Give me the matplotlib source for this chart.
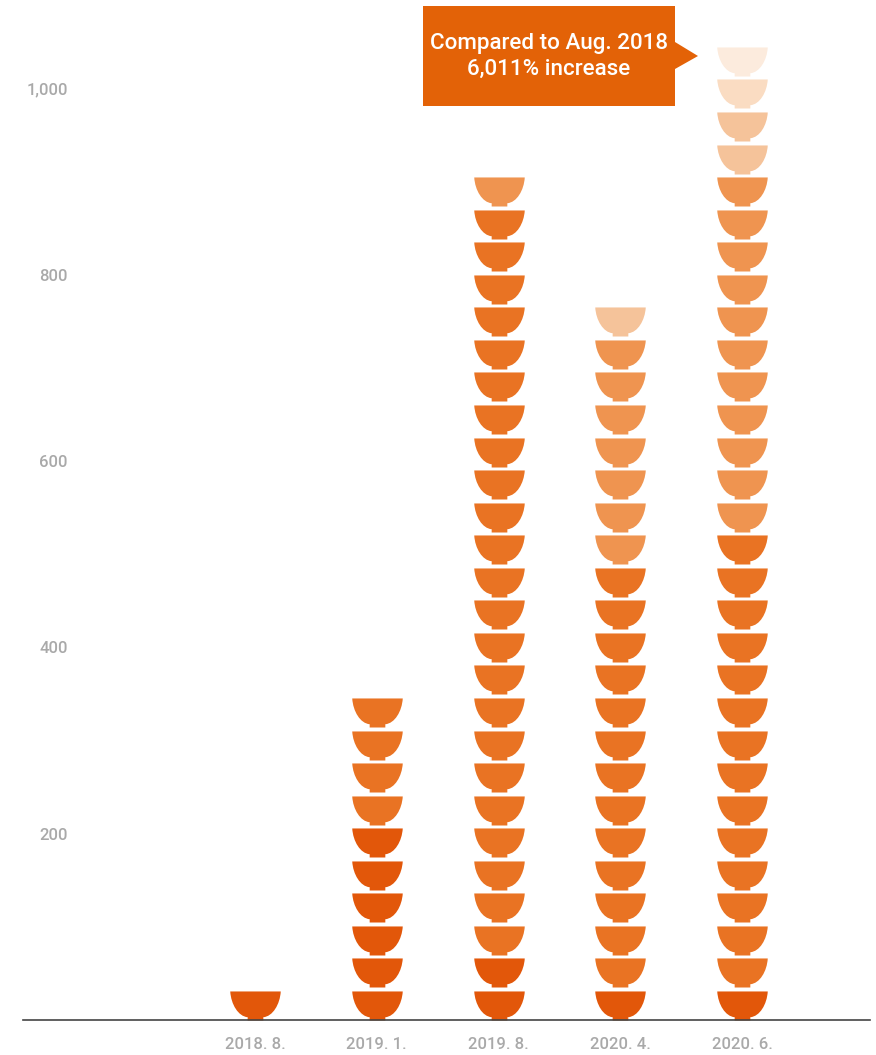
"""Stacked bowl pictogram: bowls per month, darker shades at the bottom."""

import matplotlib
matplotlib.use("Agg")
import matplotlib.pyplot as plt
from matplotlib.markers import MarkerStyle
from matplotlib.patches import Polygon
from matplotlib.path import Path
import numpy as np

# ---------------------------------------------------------------------------
# Data
# ---------------------------------------------------------------------------

categories = ["2018. 8.", "2019. 1.", "2019. 8.", "2020. 4.", "2020. 6."]
y_ticks = [200, 400, 600, 800, 1000]
y_tick_labels = ["200", "400", "600", "800", "1,000"]
units_per_bowl = 34.95

# bowls per category, bottom shade first
shade_colours = ["#E2570A", "#E97323", "#EF9450", "#F5C39A", "#FADCC2", "#FCEBDD"]
dark_bowls = [1, 6, 2, 1, 1]
mid_bowls = [0, 4, 23, 13, 14]
light_bowls = [0, 0, 1, 7, 11]
pale_bowls = [0, 0, 0, 1, 2]
paler_bowls = [0, 0, 0, 0, 1]
palest_bowls = [0, 0, 0, 0, 1]

callout_lines = "Compared to Aug. 2018\n6,011% increase"

# ---------------------------------------------------------------------------
# Layout
# ---------------------------------------------------------------------------

W, H = 876, 1055
DPI = 100
FONT = ["Roboto", "DejaVu Sans"]
GREY = "#A9A9A9"
CALLOUT = "#E36207"
BOWL_TOP = 1.15


def fx(px):
    return px / W


def fy(px):
    return 1 - px / H


# half width = 1, foot bottom at y = 0
bowl_path = Path(
    [(-1.0, BOWL_TOP), (1.0, BOWL_TOP),
     (0.97, 0.64), (0.68, 0.16), (0.31, 0.13),
     (0.31, 0.0), (-0.31, 0.0), (-0.31, 0.13),
     (-0.68, 0.16), (-0.97, 0.64), (-1.0, BOWL_TOP),
     (-1.0, BOWL_TOP)],
    [Path.MOVETO, Path.LINETO,
     Path.CURVE4, Path.CURVE4, Path.CURVE4,
     Path.LINETO, Path.LINETO, Path.LINETO,
     Path.CURVE4, Path.CURVE4, Path.CURVE4,
     Path.CLOSEPOLY],
)

fig = plt.figure(figsize=(W / DPI, H / DPI), dpi=DPI)
ax = fig.add_axes([fx(23), fy(1020), (870 - 23) / W, 1020 / H])
ax.patch.set_alpha(0)

# category centres sit about 122 px apart, first one at 255 px
ax.set_xlim((23 - 255) / 121.8, (870 - 255) / 121.8)
ax.set_ylim(0, 1020 / 0.9315)

# marker is rescaled to its largest coordinate, so size it through that
bowl_width_pt = 50.5 * 72 / DPI
marker_size = (bowl_width_pt * BOWL_TOP) ** 2

shade_counts = [dark_bowls, mid_bowls, light_bowls, pale_bowls, paler_bowls, palest_bowls]
stacked = np.zeros(len(categories), dtype=int)
for colour, counts in zip(shade_colours, shade_counts):
    for i, n in enumerate(counts):
        levels = np.arange(stacked[i], stacked[i] + n)
        ax.scatter(np.full(n, i), levels * units_per_bowl, s=marker_size,
                   marker=MarkerStyle(bowl_path), color=colour, linewidths=0,
                   clip_on=False, zorder=2)
    stacked += np.array(counts)

for side in ["top", "left", "right"]:
    ax.spines[side].set_visible(False)
ax.spines["bottom"].set_color("#444444")
ax.spines["bottom"].set_linewidth(1.2)
ax.spines["bottom"].set_zorder(3)

ax.set_xticks(range(len(categories)), categories)
ax.set_yticks(y_ticks, y_tick_labels)
ax.tick_params(axis="x", length=0, pad=12, labelsize=12, labelcolor=GREY)
ax.tick_params(axis="y", length=0, pad=-32.4, labelsize=12, labelcolor=GREY)
for label in ax.get_xticklabels() + ax.get_yticklabels():
    label.set_family(FONT)
    label.set_fontweight("medium")

# callout box with arrow pointing at the last column
box_px = [(423, 6), (675, 6), (675, 42), (698, 56), (675, 69), (675, 106), (423, 106)]
fig.add_artist(Polygon([(fx(x), fy(y)) for x, y in box_px], closed=True,
                       transform=fig.transFigure, facecolor=CALLOUT, edgecolor="none"))
fig.text(fx(548.5), fy(56.5), callout_lines, color="white", fontsize=16.1, family=FONT,
         fontweight="medium", ha="center", va="center", linespacing=1.33)

fig.savefig("out.png", dpi=DPI)
plt.close(fig)
